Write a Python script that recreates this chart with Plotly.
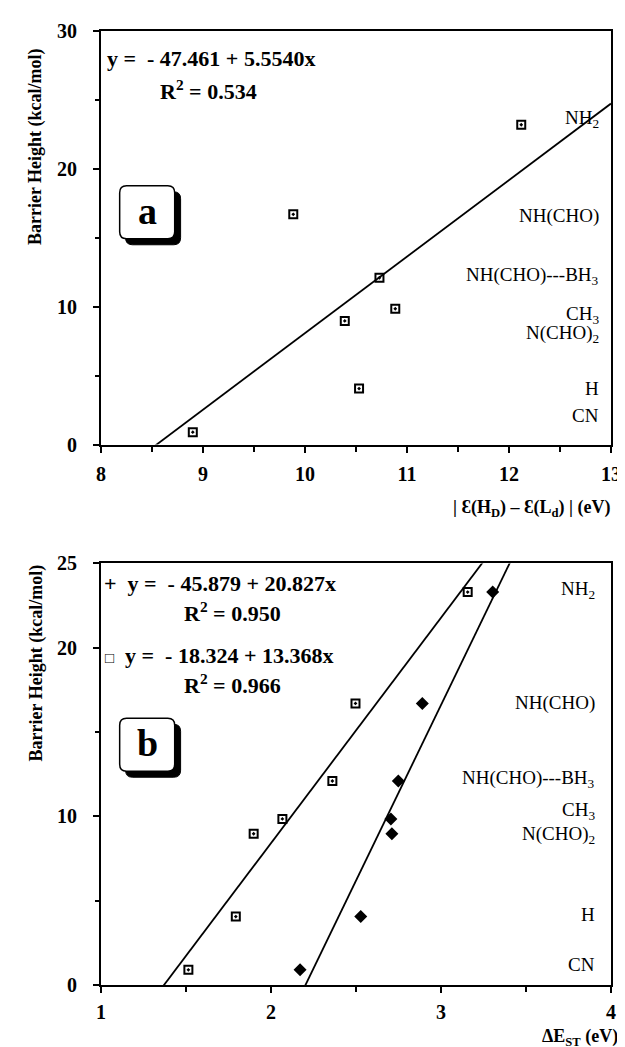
import plotly.graph_objects as go

# ---------------- data ----------------
substituents = ["CN", "H", "N(CHO)<sub>2</sub>", "CH<sub>3</sub>", "NH(CHO)---BH<sub>3</sub>", "NH(CHO)", "NH<sub>2</sub>"]
barrier = [0.9, 4.06, 8.97, 9.85, 12.1, 16.7, 23.2]

# panel a : |e(HD) - e(Ld)| (eV)
gap_a = [8.90, 10.53, 10.39, 10.885, 10.73, 9.885, 12.12]
fit_a = (-47.461, 5.5540)

# panel b : Delta E_ST (eV)
dest_filled = [2.171, 2.528, 2.711, 2.705, 2.749, 2.89, 3.304]
dest_open = [1.514, 1.793, 1.898, 2.067, 2.361, 2.497, 3.157]
barrier_b = [0.9, 4.06, 8.97, 9.85, 12.1, 16.7, 23.3]
fit_filled = (-45.879, 20.827)
fit_open = (-18.324, 13.368)

# tick labels
xticks_a = [8, 9, 10, 11, 12, 13]
yticks_a = [0, 10, 20, 30]
xticks_b = [1, 2, 3, 4]
yticks_b = [0, 10, 20, 25]

# label heights (layout only)
label_y_a = [2.1, 4.1, 8.0, 9.4, 12.2, 16.6, 23.6]
label_y_b = [1.2, 4.2, 8.9, 10.3, 12.2, 16.7, 23.4]

xrange_a = [8, 13]
yrange_a = [0, 30]
xrange_b = [1, 4]
yrange_b = [0, 25]

# ---------------- geometry helpers ----------------
W, H = 625, 1047
ML, MR, MT, MB = 93, 13, 22, 70
PW, PH = W - ML - MR, H - MT - MB


def px(x):
    return (x - ML) / PW


def py(y):
    return (H - MB - y) / PH


def rrect(x0, y0, x1, y1, r):
    def P(x, y):
        return f"{px(x):.5f},{py(y):.5f}"
    s = f"M {P(x0 + r, y0)} L {P(x1 - r, y0)} Q {P(x1, y0)} {P(x1, y0 + r)} "
    s += f"L {P(x1, y1 - r)} Q {P(x1, y1)} {P(x1 - r, y1)} "
    s += f"L {P(x0 + r, y1)} Q {P(x0, y1)} {P(x0, y1 - r)} "
    s += f"L {P(x0, y0 + r)} Q {P(x0, y0)} {P(x0 + r, y0)} Z"
    return s


FONT = "Liberation Serif"

fig = go.Figure()

# panel a
fig.add_trace(go.Scatter(x=gap_a, y=barrier, mode="markers",
                         marker=dict(symbol="square-open-dot", size=8, color="black", line=dict(width=2)),
                         xaxis="x", yaxis="y", showlegend=False))
fig.add_trace(go.Scatter(x=xrange_a, y=[fit_a[0] + fit_a[1] * v for v in xrange_a], mode="lines",
                         line=dict(color="black", width=1.8), xaxis="x", yaxis="y", showlegend=False))

# panel b
fig.add_trace(go.Scatter(x=xrange_b, y=[fit_open[0] + fit_open[1] * v for v in xrange_b], mode="lines",
                         line=dict(color="black", width=1.8), xaxis="x2", yaxis="y2", showlegend=False))
fig.add_trace(go.Scatter(x=xrange_b, y=[fit_filled[0] + fit_filled[1] * v for v in xrange_b], mode="lines",
                         line=dict(color="black", width=1.8), xaxis="x2", yaxis="y2", showlegend=False))
fig.add_trace(go.Scatter(x=dest_open, y=barrier_b, mode="markers",
                         marker=dict(symbol="square-open-dot", size=8, color="black", line=dict(width=2)),
                         xaxis="x2", yaxis="y2", showlegend=False))
fig.add_trace(go.Scatter(x=dest_filled, y=barrier_b, mode="markers",
                         marker=dict(symbol="diamond", size=10, color="black"),
                         xaxis="x2", yaxis="y2", showlegend=False))

tickfont = dict(family=FONT, size=20, color="black")
axis_common = dict(showline=True, linewidth=2, linecolor="black", mirror=True, showgrid=False,
                   zeroline=False, ticks="outside", ticklen=6, tickwidth=1.5, tickcolor="black",
                   tickfont=tickfont, tickmode="array")


def bt(vals):
    return [f"<b>{v}</b>" for v in vals]


top_dom = [py(436), py(22)]
bot_dom = [py(977), py(555)]

fig.update_layout(
    width=W, height=H, margin=dict(l=ML, r=MR, t=MT, b=MB),
    paper_bgcolor="white", plot_bgcolor="white",
    xaxis=dict(axis_common, range=xrange_a, domain=[0, 1], anchor="y",
               tickvals=xticks_a, ticktext=bt(xticks_a), ticklabelstandoff=4,
               minor=dict(ticks="outside", ticklen=5, tickcolor="black", dtick=0.5, tick0=8)),
    yaxis=dict(axis_common, range=yrange_a, domain=top_dom, anchor="x",
               tickvals=yticks_a, ticktext=bt(yticks_a), ticklabelstandoff=12,
               minor=dict(ticks="outside", ticklen=4, tickcolor="black", dtick=5, tick0=0)),
    xaxis2=dict(axis_common, range=xrange_b, domain=[0, 1], anchor="y2",
                tickvals=xticks_b, ticktext=bt(xticks_b), ticklabelstandoff=2,
                minor=dict(ticks="outside", ticklen=5, tickcolor="black", dtick=0.5, tick0=1)),
    yaxis2=dict(axis_common, range=yrange_b, domain=bot_dom, anchor="x2",
                tickvals=yticks_b, ticktext=bt(yticks_b), ticklabelstandoff=12,
                minor=dict(ticks="outside", ticklen=4, tickcolor="black", tickmode="array", tickvals=[5, 15])),
)

ann = []
bold = dict(family=FONT, size=22, color="black")
reg = dict(family=FONT, size=19, color="black")

# y titles
for yc in (138, 655):
    ann.append(dict(text="<b>Barrier Height (kcal/mol)</b>", xref="paper", yref="paper", x=px(27), y=py(yc),
                    textangle=-90, showarrow=False, font=dict(family=FONT, size=18, color="black"),
                    xanchor="center", yanchor="middle"))
# x titles
ann.append(dict(text="<b>| Ɛ(H<sub>D</sub>) – Ɛ(L<sub>d</sub>) | (eV)</b>", xref="paper", yref="paper",
                x=px(614), y=py(500), xanchor="right", yanchor="middle", showarrow=False,
                font=dict(family=FONT, size=18, color="black")))
ann.append(dict(text="<b>ΔE<sub>ST</sub> (eV)</b>", xref="paper", yref="paper",
                x=px(621), y=py(1030), xanchor="right", yanchor="middle", showarrow=False,
                font=dict(family=FONT, size=18, color="black")))

# equations
ann.append(dict(text="<b>y =\u00a0 - 47.461 + 5.5540x</b>", xref="paper", yref="paper", x=px(97), y=py(50),
                xanchor="left", yanchor="middle", showarrow=False, font=bold))
ann.append(dict(text="<b>R<sup>2</sup> = 0.534</b>", xref="paper", yref="paper", x=px(202), y=py(81),
                xanchor="center", yanchor="middle", showarrow=False, font=bold))
ann.append(dict(text="<b>+\u00a0 y =\u00a0 - 45.879 + 20.827x</b>", xref="paper", yref="paper", x=px(94), y=py(575),
                xanchor="left", yanchor="middle", showarrow=False, font=bold))
ann.append(dict(text="<b>R<sup>2</sup> = 0.950</b>", xref="paper", yref="paper", x=px(227), y=py(604),
                xanchor="center", yanchor="middle", showarrow=False, font=bold))
ann.append(dict(text="<span style='font-size:15px'>□</span>\u00a0 <b>y =\u00a0 - 18.324 + 13.368x</b>", xref="paper", yref="paper",
                x=px(95), y=py(647), xanchor="left", yanchor="middle", showarrow=False, font=bold))
ann.append(dict(text="<b>R<sup>2</sup> = 0.966</b>", xref="paper", yref="paper", x=px(227), y=py(676),
                xanchor="center", yanchor="middle", showarrow=False, font=bold))

# substituent labels
for name, ly in zip(substituents, label_y_a):
    ann.append(dict(text=name, xref="paper", yref="y", x=px(602), y=ly, xanchor="right", yanchor="middle",
                    showarrow=False, font=reg))
for name, ly in zip(substituents, label_y_b):
    ann.append(dict(text=name, xref="paper", yref="y2", x=px(598), y=ly, xanchor="right", yanchor="middle",
                    showarrow=False, font=reg))

# panel letters
ann.append(dict(text="<b>a</b>", xref="paper", yref="paper", x=px(140), y=py(202), xanchor="center",
                yanchor="middle", showarrow=False, font=dict(family=FONT, size=38, color="black")))
ann.append(dict(text="<b>b</b>", xref="paper", yref="paper", x=px(140), y=py(735), xanchor="center",
                yanchor="middle", showarrow=False, font=dict(family=FONT, size=38, color="black")))

shapes = []
for (x0, y0, x1, y1) in [(112, 177, 168, 230), (112, 710, 168, 763)]:
    shapes.append(dict(type="path", xref="paper", yref="paper", path=rrect(x0 + 6, y0 + 6, x1 + 6, y1 + 6, 7),
                       fillcolor="black", line=dict(color="black", width=1)))
    shapes.append(dict(type="path", xref="paper", yref="paper", path=rrect(x0, y0, x1, y1, 7),
                       fillcolor="white", line=dict(color="black", width=1.5)))

fig.update_layout(annotations=ann, shapes=shapes)
fig.write_html("out.html")
